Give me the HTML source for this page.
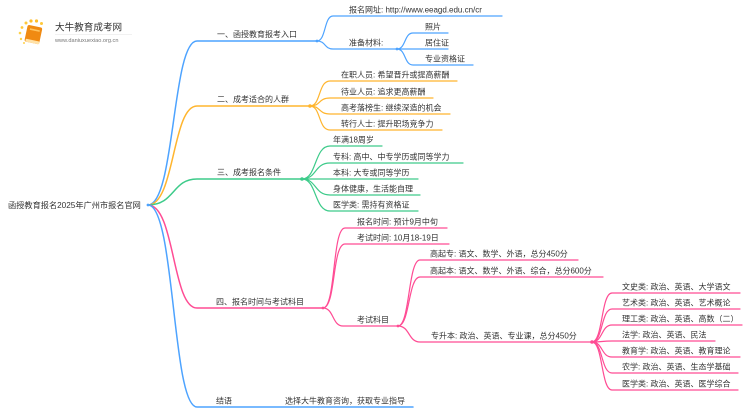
<!DOCTYPE html>
<html><head><meta charset="utf-8">
<style>
html,body{margin:0;padding:0;background:#fff;}
svg{display:block;}
text{font-family:"Liberation Sans","Noto Sans CJK SC",sans-serif;fill:#333;font-size:8px;}
</style></head>
<body>
<svg width="750" height="410" viewBox="0 0 750 410" xmlns="http://www.w3.org/2000/svg">
<!-- logo -->
<g>
  <circle cx="21" cy="39" r="1.2" fill="#FFD24A"/>
  <circle cx="20" cy="33" r="1.3" fill="#FFD24A"/>
  <circle cx="22" cy="27.5" r="1.4" fill="#FFC93A"/>
  <circle cx="26" cy="23" r="1.5" fill="#FFC93A"/>
  <circle cx="31" cy="21" r="1.6" fill="#FFBE2A"/>
  <circle cx="36.5" cy="21" r="1.6" fill="#FFBE2A"/>
  <circle cx="41.5" cy="23.5" r="1.5" fill="#FFC93A"/>
  <circle cx="24" cy="43" r="1" fill="#FFD24A"/>
  <g transform="rotate(12 33 34)">
    <rect x="26" y="26" width="15" height="17" rx="2" fill="#F08A12"/>
    <rect x="27" y="40" width="14" height="3" rx="1" fill="#FFE2A8"/>
    <rect x="29" y="29" width="10" height="1.6" fill="#FFC460"/>
  </g>
  <text x="55" y="30.5" style="font-size:9.6px;fill:#333;">大牛教育成考网</text>
  <line x1="55" y1="34.5" x2="132" y2="34.5" stroke="#e4e4e4" stroke-width="0.6"/>
  <text x="55" y="42" style="font-size:5.6px;fill:#777;">www.daniuxuexiao.org.cn</text>
</g>

<!-- root -->
<text x="8" y="208" style="font-size:8.2px;">函授教育报名2025年广州市报名官网</text>

<g fill="none" stroke-linecap="round">
  <!-- branch 1 blue -->
  <path d="M148,205 C175,205 172,41 197,41 L317,41" stroke="#4DA3FF" stroke-width="1.5"/>
  <path d="M317,41 C326,41 324,16 333,16 L502,16" stroke="#4DA3FF" stroke-width="1.2"/>
  <path d="M317,41 C326,41 324,49 333,49 L397,49" stroke="#4DA3FF" stroke-width="1.2"/>
  <path d="M397,49 C406,49 404,33 413,33 L448,33" stroke="#4DA3FF" stroke-width="1.2"/>
  <path d="M397,49 L448,49" stroke="#4DA3FF" stroke-width="1.2"/>
  <path d="M397,49 C406,49 404,65 413,65 L473,65" stroke="#4DA3FF" stroke-width="1.2"/>

  <!-- branch 2 orange -->
  <path d="M148,205 C175,205 172,106 197,106 L310,106" stroke="#FFB52E" stroke-width="1.5"/>
  <path d="M310,106 C321,106 318,81 330,81 L457,81" stroke="#FFB52E" stroke-width="1.2"/>
  <path d="M310,106 C321,106 318,98 330,98 L433,98" stroke="#FFB52E" stroke-width="1.2"/>
  <path d="M310,106 C321,106 318,114 330,114 L450,114" stroke="#FFB52E" stroke-width="1.2"/>
  <path d="M310,106 C321,106 318,130 330,130 L442,130" stroke="#FFB52E" stroke-width="1.2"/>

  <!-- branch 3 green -->
  <path d="M148,205 C175,205 172,179 197,179 L302,179" stroke="#3DCB8A" stroke-width="1.5"/>
  <path d="M302,179 C317,179 314,146 330,146 L382,146" stroke="#3DCB8A" stroke-width="1.2"/>
  <path d="M302,179 C317,179 314,163 330,163 L463,163" stroke="#3DCB8A" stroke-width="1.2"/>
  <path d="M302,179 L418,179" stroke="#3DCB8A" stroke-width="1.2"/>
  <path d="M302,179 C317,179 314,195 330,195 L420,195" stroke="#3DCB8A" stroke-width="1.2"/>
  <path d="M302,179 C317,179 314,211 330,211 L418,211" stroke="#3DCB8A" stroke-width="1.2"/>

  <!-- branch 4 pink -->
  <path d="M148,205 C175,205 172,308 197,308 L323,308" stroke="#FF4C94" stroke-width="1.5"/>
  <path d="M323,308 C336,308 332,228 345,228 L447,228" stroke="#FF4C94" stroke-width="1.2"/>
  <path d="M323,308 C336,308 332,244 345,244 L449,244" stroke="#FF4C94" stroke-width="1.2"/>
  <path d="M323,308 C334,308 332,326 343,326 L398,326" stroke="#FF4C94" stroke-width="1.2"/>
  <path d="M398,326 C410,326 408,260 420,260 L578,260" stroke="#FF4C94" stroke-width="1.2"/>
  <path d="M398,326 C410,326 408,277 420,277 L603,277" stroke="#FF4C94" stroke-width="1.2"/>
  <path d="M398,326 C410,326 408,342 420,342 L592,342" stroke="#FF4C94" stroke-width="1.2"/>
  <path d="M592,342 C603,342 601,293 612,293 L740,293" stroke="#FF4C94" stroke-width="1.2"/>
  <path d="M592,342 C603,342 601,309 612,309 L740,309" stroke="#FF4C94" stroke-width="1.2"/>
  <path d="M592,342 C603,342 601,325 612,325 L742,325" stroke="#FF4C94" stroke-width="1.2"/>
  <path d="M592,342 C603,342 601,341 612,341 L715,341" stroke="#FF4C94" stroke-width="1.2"/>
  <path d="M592,342 C603,342 601,357 612,357 L740,357" stroke="#FF4C94" stroke-width="1.2"/>
  <path d="M592,342 C603,342 601,373 612,373 L738,373" stroke="#FF4C94" stroke-width="1.2"/>
  <path d="M592,342 C603,342 601,390 612,390 L738,390" stroke="#FF4C94" stroke-width="1.2"/>

  <!-- branch 5 blue -->
  <path d="M148,205 C175,205 172,407 197,407 L413,407" stroke="#4DA3FF" stroke-width="1.5"/>
</g>

<!-- junction dots -->
<circle cx="317" cy="41" r="1.4" fill="#4DA3FF"/>
<circle cx="397" cy="49" r="1.4" fill="#4DA3FF"/>
<circle cx="310" cy="106" r="1.8" fill="#FFB52E"/>
<circle cx="302" cy="179" r="1.8" fill="#3DCB8A"/>
<circle cx="323" cy="308" r="1.4" fill="#FF4C94"/>
<circle cx="398" cy="326" r="1.4" fill="#FF4C94"/>
<circle cx="592" cy="342" r="1.8" fill="#FF4C94"/>
<circle cx="148" cy="205" r="1.4" fill="#4DA3FF"/>

<!-- labels -->
<text x="217" y="37">一、函授教育报考入口</text>
<text x="349" y="12.5">报名网址: http://www.eeagd.edu.cn/cr</text>
<text x="349" y="45.5">准备材料:</text>
<text x="425" y="29.5">照片</text>
<text x="425" y="45.5">居住证</text>
<text x="425" y="61.5">专业资格证</text>

<text x="217" y="102">二、成考适合的人群</text>
<text x="341" y="77.5">在职人员: 希望晋升或提高薪酬</text>
<text x="341" y="94.5">待业人员: 追求更高薪酬</text>
<text x="341" y="110.5">高考落榜生: 继续深造的机会</text>
<text x="341" y="126.5">转行人士: 提升职场竞争力</text>

<text x="217" y="175">三、成考报名条件</text>
<text x="333" y="142.5">年满18周岁</text>
<text x="333" y="159.5">专科: 高中、中专学历或同等学力</text>
<text x="333" y="175.5">本科: 大专或同等学历</text>
<text x="333" y="191.5">身体健康，生活能自理</text>
<text x="333" y="207.5">医学类: 需持有资格证</text>

<text x="216" y="304.5">四、报名时间与考试科目</text>
<text x="357" y="224.5">报名时间: 预计9月中旬</text>
<text x="357" y="240.5">考试时间: 10月18-19日</text>
<text x="357" y="322.5">考试科目</text>
<text x="430" y="256.5">高起专: 语文、数学、外语，总分450分</text>
<text x="430" y="273.5">高起本: 语文、数学、外语、综合，总分600分</text>
<text x="431" y="338.5">专升本: 政治、英语、专业课，总分450分</text>
<text x="622" y="289.5">文史类: 政治、英语、大学语文</text>
<text x="622" y="305.5">艺术类: 政治、英语、艺术概论</text>
<text x="622" y="321.5">理工类: 政治、英语、高数（二）</text>
<text x="622" y="337.5">法学: 政治、英语、民法</text>
<text x="622" y="353.5">教育学: 政治、英语、教育理论</text>
<text x="622" y="369.5">农学: 政治、英语、生态学基础</text>
<text x="622" y="386.5">医学类: 政治、英语、医学综合</text>

<text x="216" y="403.5">结语</text>
<text x="285" y="403.5">选择大牛教育咨询，获取专业指导</text>
</svg>
</body></html>
